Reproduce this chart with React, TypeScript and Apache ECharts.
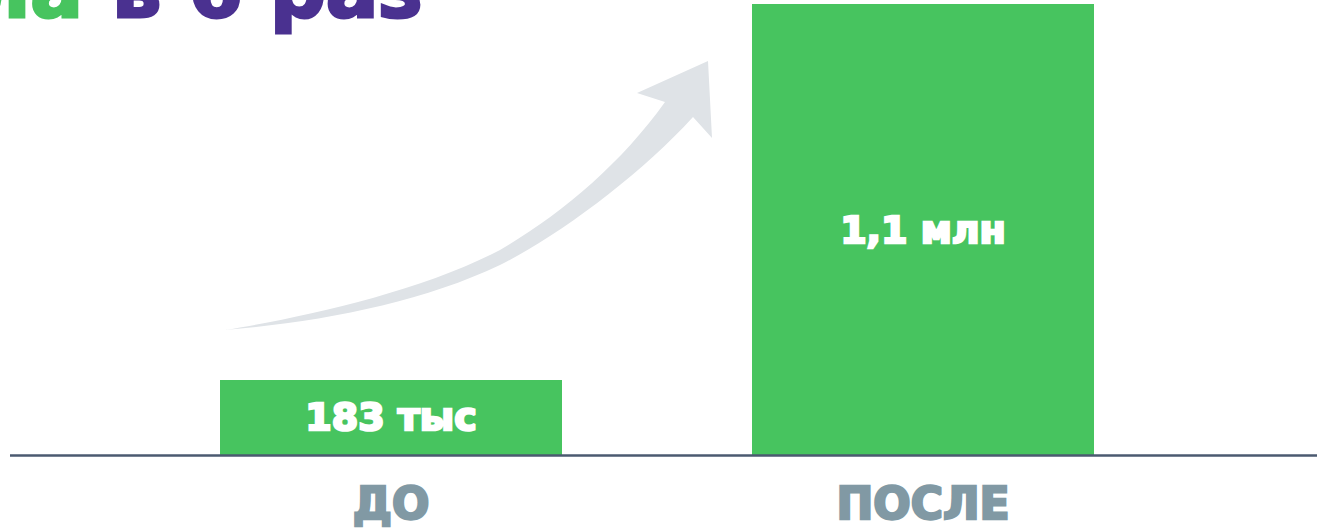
import React, { useEffect, useRef } from "react";
import * as echarts from "echarts";

const categories = ["ДО", "ПОСЛЕ"];
const values = [183, 1100]; // тыс.
const valueLabels = ["183 тыс", "1,1 млн"];
const titleGreen = "ла";
const titlePurple = "в 6 раз";

const GREEN = "#47c45f";
const PURPLE = "#4a3190";
const GREY = "#8199a4";
const AXIS = "#4b5a70";
const ARROW = "#dfe3e7";
const FONT = "DejaVu Sans";

const arrowPath =
  "M225 330 C300 318 420 292 500 250 C560 215 620 165 665 102 L637 93 L708 61 L712 138 L693 117 C640 175 560 235 500 265 C420 303 320 322 225 330 Z";

let registered = false;
function ensureShape() {
  if (registered) return;
  echarts.graphic.registerShape("growArrow", echarts.graphic.extendPath(arrowPath, {}) as any);
  registered = true;
}

export default function App() {
  const ref = useRef<HTMLDivElement>(null);
  useEffect(() => {
    if (!ref.current) return;
    ensureShape();
    const chart = echarts.init(ref.current, undefined, { renderer: "svg" });
    chart.setOption({
      animation: false,
      grid: { left: 125, right: 128, top: 4, bottom: 73, containLabel: false },
      xAxis: {
        type: "category",
        data: categories,
        axisLine: { show: false },
        axisTick: { show: false },
        axisLabel: {
          color: GREY,
          fontFamily: FONT,
          fontWeight: "bold",
          fontSize: 44,
          lineHeight: 44,
          margin: 26,
          textBorderColor: GREY,
          textBorderWidth: 2.5,
        },
      },
      yAxis: {
        type: "value",
        min: 0,
        max: 1100,
        show: false,
        splitLine: { show: false },
      },
      series: [
        {
          type: "bar",
          data: values,
          barWidth: 342,
          itemStyle: { color: GREEN },
          label: {
            show: true,
            position: "inside",
            color: "#ffffff",
            fontFamily: FONT,
            fontWeight: "bold",
            fontSize: 38,
            textBorderColor: "#ffffff",
            textBorderWidth: 2.5,
            formatter: (p: any) => valueLabels[p.dataIndex],
          },
          z: 2,
        },
      ],
      graphic: [
        {
          type: "growArrow",
          x: 0,
          y: 0,
          z: 1,
          style: { fill: ARROW },
        },
        {
          type: "line",
          z: 10,
          shape: { x1: 10, y1: 455.5, x2: 1317, y2: 455.5 },
          style: { stroke: AXIS, lineWidth: 2.5 },
        },
        {
          type: "text",
          x: 83,
          y: -10,
          style: {
            text: titleGreen,
            fill: GREEN,
            fontFamily: FONT,
            fontWeight: "bold",
            fontSize: 78,
            textAlign: "right",
            textVerticalAlign: "middle",
            stroke: GREEN,
            lineWidth: 3,
          },
        },
        {
          type: "text",
          x: 112,
          y: -10,
          style: {
            text: titlePurple,
            fill: PURPLE,
            fontFamily: FONT,
            fontWeight: "bold",
            fontSize: 78,
            textAlign: "left",
            textVerticalAlign: "middle",
            stroke: PURPLE,
            lineWidth: 3,
          },
        },
      ],
    });
    return () => chart.dispose();
  }, []);
  return (
    <div
      ref={ref}
      style={{ position: "fixed", left: 0, top: 0, width: 1317, height: 528, background: "#ffffff" }}
    />
  );
}
